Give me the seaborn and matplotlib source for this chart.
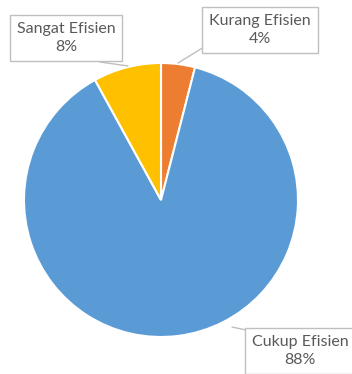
import matplotlib
matplotlib.use("Agg")
import matplotlib.pyplot as plt
import seaborn as sns

# Efficiency categories and their shares (%)
categories = ["Kurang Efisien", "Cukup Efisien", "Sangat Efisien"]
shares = [4, 88, 8]
palette = ["#ED7D31", "#5B9BD5", "#FFC000"]

sns.set_theme(style="white")
plt.rcParams["font.family"] = ["Lato", "DejaVu Sans"]

W, H = 352, 374
fig = plt.figure(figsize=(W / 100, H / 100), dpi=100)
ax = fig.add_axes([0, 0, 1, 1])

# pixel -> data helpers (pie centred at 0,0 with radius 1)
CX, CY, R = 161, 200, 137
def px(x):
    return (x - CX) / R
def py(y):
    return (CY - y) / R

ax.pie(shares, colors=sns.color_palette(palette), startangle=90,
       counterclock=False, radius=1,
       wedgeprops=dict(edgecolor="white", linewidth=1.5))

ax.set_xlim(px(0), px(W))
ax.set_ylim(py(H), py(0))
ax.set_aspect("equal")
ax.axis("off")

grey = "#595959"
box = dict(boxstyle="square,pad=0.42", facecolor="white", edgecolor="#BFBFBF", linewidth=1)
label_pos = {
    "Kurang Efisien": (260, 30),
    "Cukup Efisien": (300, 351),
    "Sangat Efisien": (66, 38),
}
leaders = {
    "Kurang Efisien": [(204, 47), (178, 63)],
    "Cukup Efisien": [(246, 330), (232, 327)],
    "Sangat Efisien": [(100, 62), (128, 66)],
}
for cat, val in zip(categories, shares):
    (x0, y0), (x1, y1) = leaders[cat]
    ax.plot([px(x0), px(x1)], [py(y0), py(y1)], color="#BFBFBF", lw=1, zorder=3)
    lx, ly = label_pos[cat]
    ax.text(px(lx), py(ly), f"{cat}\n{val}%", ha="center", va="center",
            fontsize=11.5, color=grey, bbox=box, linespacing=1.45, zorder=4)

fig.savefig("out.png", dpi=100)
